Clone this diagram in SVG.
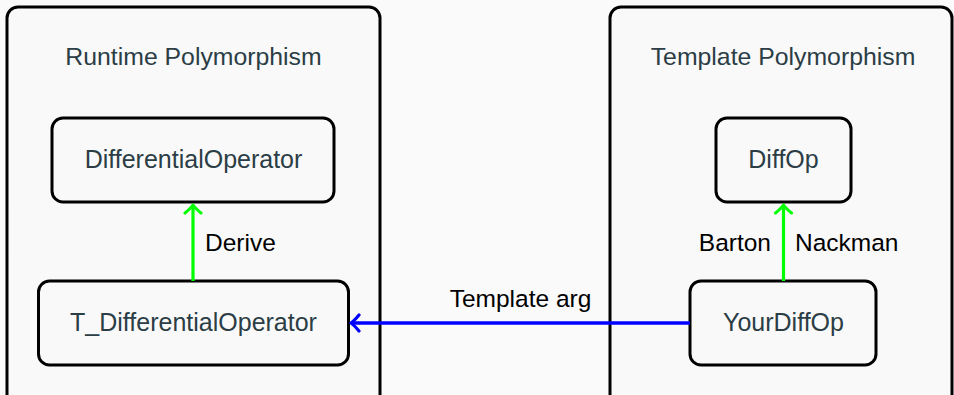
<svg xmlns="http://www.w3.org/2000/svg" width="954" height="395" viewBox="0 0 954 395">
  <style>
    .bg { fill: #fafafa; }
    .frame { fill: #f9f9f9; stroke: #000; stroke-width: 3; }
    .node { fill: #f9f9f9; stroke: #000; stroke-width: 3; }
    .title { font-family: "Liberation Sans", Arial, sans-serif; font-size: 24.8px; fill: #2b3d45; text-anchor: middle; }
    .name { font-family: "Liberation Sans", Arial, sans-serif; font-size: 25px; fill: #2b3d45; text-anchor: middle; }
    .label { font-family: "Liberation Sans", Arial, sans-serif; font-size: 24.5px; fill: #000; }
    .derive { stroke: #00ff00; stroke-width: 3.2; fill: none; }
    .param { stroke: #0000ff; stroke-width: 3.5; fill: none; }
  </style>
  <defs>
    <marker id="tipGreen" markerUnits="userSpaceOnUse" viewBox="-12 -10 14 20" markerWidth="14" markerHeight="20" refX="0" refY="0" orient="auto">
      <path d="M-8,-8 Q-3,-2 0,0 Q-3,2 -8,8" fill="none" stroke="#00ff00" stroke-width="3" stroke-linecap="round" stroke-linejoin="round"/>
    </marker>
    <marker id="tipBlue" markerUnits="userSpaceOnUse" viewBox="-12 -10 14 20" markerWidth="14" markerHeight="20" refX="0" refY="0" orient="auto">
      <path d="M-8,-8 Q-3,-2 0,0 Q-3,2 -8,8" fill="none" stroke="#0000ff" stroke-width="3.2" stroke-linecap="round" stroke-linejoin="round"/>
    </marker>
  </defs>

  <rect class="bg" x="0" y="0" width="954" height="395"/>

  <!-- Runtime polymorphism panel -->
  <g id="runtime">
    <rect class="frame" x="7" y="7" width="373" height="400" rx="11"/>
    <text class="title" x="193.5" y="65">Runtime Polymorphism</text>
  </g>

  <!-- Template polymorphism panel -->
  <g id="template">
    <rect class="frame" x="610" y="7" width="342" height="400" rx="11"/>
    <text class="title" x="783" y="65">Template Polymorphism</text>
  </g>

  <g id="DifferentialOperator">
    <rect class="node" x="52" y="118" width="282" height="84" rx="11"/>
    <text class="name" x="193.5" y="167.5">DifferentialOperator</text>
  </g>

  <g id="T_DifferentialOperator">
    <rect class="node" x="38.5" y="281" width="310" height="84" rx="11"/>
    <text class="name" x="193.5" y="330.5">T_DifferentialOperator</text>
  </g>

  <g id="DiffOp">
    <rect class="node" x="716" y="118" width="135" height="84" rx="11"/>
    <text class="name" x="783.5" y="167.5">DiffOp</text>
  </g>

  <g id="YourDiffOp">
    <rect class="node" x="690" y="281" width="186" height="84" rx="11"/>
    <text class="name" x="783.5" y="330.5">YourDiffOp</text>
  </g>

  <!-- connectors -->
  <g id="edges">
    <line class="derive" x1="193" y1="281" x2="193" y2="205" marker-end="url(#tipGreen)"/>
    <text class="label" x="205" y="251">Derive</text>

    <line class="derive" x1="783.5" y1="281" x2="783.5" y2="205" marker-end="url(#tipGreen)"/>
    <text class="label" x="771" y="251" text-anchor="end">Barton</text>
    <text class="label" x="795" y="251">Nackman</text>

    <line class="param" x1="690" y1="323" x2="351" y2="323" marker-end="url(#tipBlue)"/>
    <text class="label" x="520.5" y="307" text-anchor="middle">Template arg</text>
  </g>
</svg>
